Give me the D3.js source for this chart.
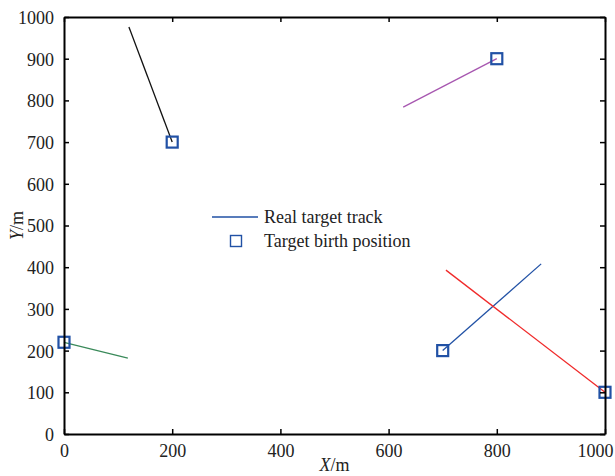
<!DOCTYPE html>
<html><head><meta charset="utf-8">
<script src="https://cdn.jsdelivr.net/npm/d3@7"></script>
<style>body{margin:0;background:#fff}svg{display:block}text{font-family:"Liberation Serif","Times New Roman",serif;fill:#222}</style>
</head><body>
<script>
const xTicks=[0,200,400,600,800,1000];
const yTicks=[0,100,200,300,400,500,600,700,800,900,1000];
const trackNames=["black","purple","blue","red","green"];
const trackColors=["#111111","#a757b0","#2151a5","#f02a2a","#3a8a5a"];
const trackStartX=[200,800,700,1000,0];
const trackStartY=[700,900,200,100,220];
const trackEndX=[120,627,882,706,118];
const trackEndY=[976,784,408,393,182];
const birthX=[200,800,700,1000,0];
const birthY=[700,900,200,100,220];

const W=615,H=476,m={l:64,r:10,t:17,b:42};
const svg=d3.select("body").append("svg").attr("width",W).attr("height",H);
const x=d3.scaleLinear().domain([0,1000]).range([m.l,W-m.r]);
const y=d3.scaleLinear().domain([0,1000]).range([H-m.b,m.t]);
const g=svg.append("g");
trackNames.forEach((n,i)=>{
  g.append("line").attr("x1",x(trackStartX[i])).attr("y1",y(trackStartY[i]))
   .attr("x2",x(trackEndX[i])).attr("y2",y(trackEndY[i]))
   .attr("stroke",trackColors[i]).attr("stroke-width",1.3);
});
birthX.forEach((bx,i)=>{
  g.append("rect").attr("x",x(bx)-5.5).attr("y",y(birthY[i])-5.5).attr("width",11).attr("height",11)
   .attr("fill","none").attr("stroke","#2151a5").attr("stroke-width",2.2);
});
const tl=5, fmt=d3.format("d");
const ax=svg.append("g").attr("transform",`translate(0,${y(0)})`).call(d3.axisBottom(x).tickValues(xTicks).tickFormat(fmt).tickSizeInner(-tl).tickSizeOuter(0).tickPadding(10));
const ay=svg.append("g").attr("transform",`translate(${x(0)},0)`).call(d3.axisLeft(y).tickValues(yTicks).tickFormat(fmt).tickSizeInner(-tl).tickSizeOuter(0).tickPadding(10));
const at=svg.append("g").attr("transform",`translate(0,${y(1000)})`).call(d3.axisTop(x).tickValues(xTicks).tickSizeInner(-tl).tickSizeOuter(0).tickFormat(""));
const ar=svg.append("g").attr("transform",`translate(${x(1000)},0)`).call(d3.axisRight(y).tickValues(yTicks).tickSizeInner(-tl).tickSizeOuter(0).tickFormat(""));
[ax,ay,at,ar].forEach(a=>{a.attr("font-family",null).attr("font-size",null);a.selectAll("path").attr("stroke","#000").attr("stroke-width",2);a.selectAll("line").attr("stroke","#000").attr("stroke-width",1.5);a.selectAll("text").style("font-size","18px").attr("fill","#222").style("font-family",'"Liberation Serif",serif');});
ax.selectAll("text").attr("dy","0.71em");
ax.selectAll(".tick").filter(d=>d===1000).select("text").attr("x",-10);
ay.selectAll("text").attr("dy","0.36em");
const xl=svg.append("text").attr("x",(x(0)+x(1000))/2).attr("y",H-5).attr("text-anchor","middle").style("font-size","18px");
xl.append("tspan").style("font-style","italic").text("X");xl.append("tspan").text("/m");
const yl=svg.append("text").attr("transform",`translate(23,${(y(0)+y(1000))/2}) rotate(-90)`).attr("text-anchor","middle").style("font-size","18px");
yl.append("tspan").style("font-style","italic").text("Y");yl.append("tspan").text("/m");
const lg=svg.append("g");
lg.append("line").attr("x1",212).attr("x2",258).attr("y1",217).attr("y2",217).attr("stroke","#2151a5").attr("stroke-width",1.3);
lg.append("text").attr("x",264).attr("y",217).attr("dy","0.35em").style("font-size","18px").text("Real target track");
lg.append("rect").attr("x",230.5).attr("y",235.5).attr("width",11).attr("height",11).attr("fill","none").attr("stroke","#2151a5").attr("stroke-width",1.4);
lg.append("text").attr("x",264).attr("y",241).attr("dy","0.35em").style("font-size","18px").text("Target birth position");
</script>
</body></html>
